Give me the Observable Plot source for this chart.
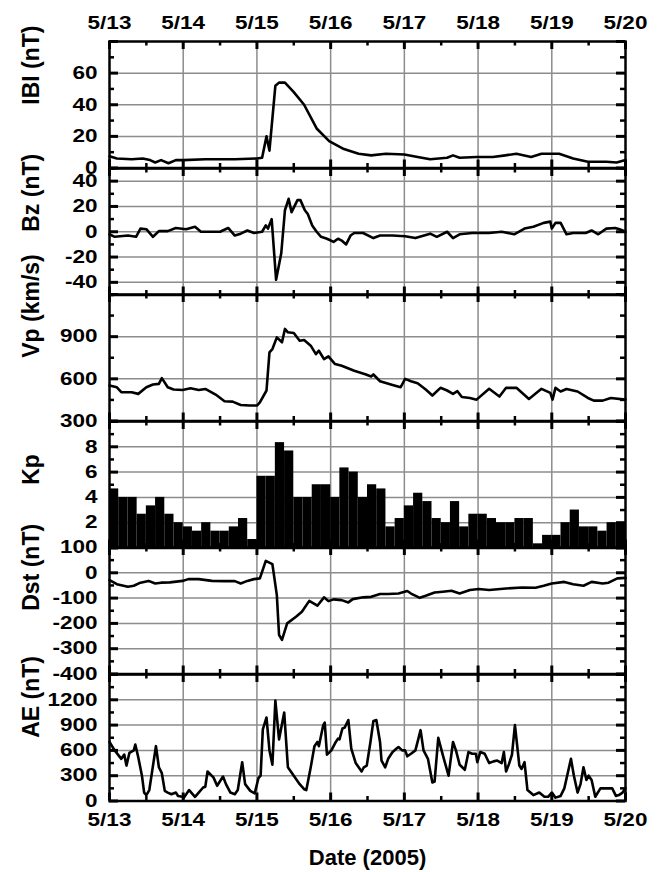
<!DOCTYPE html>
<html>
<head>
<meta charset="utf-8">
<script src="https://cdn.jsdelivr.net/npm/d3@7"></script>
<script src="https://cdn.jsdelivr.net/npm/@observablehq/plot@0.6"></script>
<style>
  html, body { margin: 0; padding: 0; background: #fff; }
  #chart { position: relative; width: 659px; height: 872px; overflow: hidden; }
  #chart svg { position: absolute; left: 0; overflow: visible; }
</style>
</head>
<body>
<div id="chart"></div>
<script>
// ---------- data (days since 2005-05-13 00:00 UT) ----------
const dateLabels = ["5/13", "5/14", "5/15", "5/16", "5/17", "5/18", "5/19", "5/20"];

const ibiDay = [0, 0.1, 0.3, 0.45, 0.55, 0.62, 0.7, 0.8, 0.9, 1.0, 1.3, 1.5, 1.7, 2.0, 2.07, 2.13, 2.17, 2.25, 2.3, 2.38, 2.5, 2.64, 2.81, 2.98, 3.18, 3.38, 3.55, 3.75, 4.0, 4.18, 4.35, 4.58, 4.66, 4.75, 4.98, 5.2, 5.37, 5.52, 5.72, 5.86, 6.1, 6.29, 6.49, 6.74, 6.88, 7.0];
const ibiVal = [7.4, 6, 5.5, 6, 5, 3.5, 5, 3, 5, 5, 5.5, 5.5, 5.5, 6, 6.5, 20, 11, 52, 54, 54, 48, 40, 25, 17, 12, 9, 8, 9, 8.5, 7, 5.5, 6.5, 8, 6.5, 7, 7, 8, 9, 7, 9, 9, 6, 4, 4, 3.5, 5];

const bzDay = [0, 0.07, 0.25, 0.36, 0.42, 0.5, 0.59, 0.67, 0.79, 0.9, 1.04, 1.16, 1.24, 1.5, 1.61, 1.7, 1.78, 1.87, 1.96, 2.07, 2.12, 2.15, 2.2, 2.26, 2.33, 2.38, 2.43, 2.47, 2.55, 2.59, 2.65, 2.69, 2.75, 2.81, 2.87, 2.95, 3.04, 3.1, 3.15, 3.21, 3.27, 3.32, 3.44, 3.58, 3.67, 3.84, 4.01, 4.15, 4.35, 4.44, 4.58, 4.66, 4.75, 4.92, 5.15, 5.32, 5.49, 5.63, 5.75, 5.89, 5.98, 6.0, 6.05, 6.12, 6.2, 6.29, 6.46, 6.54, 6.63, 6.74, 6.86, 6.92, 7.0];
const bzVal = [-2, -4, -3, -4, 2.5, 2, -4, 0.5, 0.5, 3, 2, 4, 0, 0, 3, -3, -1.5, 1, -1, 0, 5, 2.5, 10, -38, -17, 17, 26, 15.5, 25, 25, 17, 14, 5, 0, -4, -5.5, -8, -5.5, -7, -10, -3, -1, -1, -5, -3, -3, -3.5, -5, -1.5, -4, 0, -5, -2, -1, -1, 0, -2, 2.5, 4, 7, 8, 2.5, 7, 7, -2, -1, -1, 1, -2, 2.5, 3, 2, 0];

const vpDay = [0, 0.1, 0.16, 0.3, 0.39, 0.5, 0.59, 0.67, 0.71, 0.79, 0.87, 0.99, 1.1, 1.21, 1.3, 1.44, 1.56, 1.67, 1.78, 1.9, 2.0, 2.04, 2.13, 2.17, 2.21, 2.27, 2.34, 2.38, 2.42, 2.5, 2.58, 2.64, 2.73, 2.8, 2.84, 2.91, 2.97, 3.06, 3.15, 3.32, 3.47, 3.55, 3.58, 3.67, 3.84, 3.95, 4.01, 4.09, 4.18, 4.29, 4.38, 4.49, 4.58, 4.66, 4.72, 4.78, 4.89, 4.98, 5.15, 5.29, 5.38, 5.52, 5.69, 5.86, 5.98, 6.01, 6.05, 6.12, 6.2, 6.35, 6.49, 6.57, 6.69, 6.8, 7.0];
const vpVal = [553, 540, 505, 505, 493, 540, 560, 564, 605, 540, 524, 521, 533, 521, 528, 488, 440, 438, 414, 410, 410, 433, 517, 788, 812, 895, 860, 955, 931, 926, 871, 876, 836, 776, 800, 740, 760, 705, 693, 657, 633, 617, 631, 583, 557, 540, 600, 583, 569, 524, 481, 536, 517, 493, 512, 471, 464, 452, 529, 474, 536, 536, 457, 529, 500, 452, 536, 510, 528, 510, 464, 445, 445, 464, 452];

// Kp: 3-hour values, 8 per day
const kpVal = [4.67, 4, 4, 2.67, 3.33, 4, 2.67, 2,
               1.67, 1.33, 2, 1.33, 1.33, 1.67, 2.33, 0.67,
               5.67, 5.67, 8.33, 7.67, 4, 4, 5, 5,
               4, 6.33, 6, 4, 5, 4.67, 1.67, 2.33,
               3.33, 4.33, 3.67, 2.33, 2, 3.67, 1.67, 2.67,
               2.67, 2.33, 2, 2, 2.33, 2.33, 0.33, 1,
               1, 2, 3, 1.67, 1.67, 1.33, 2, 2];

const dstDay = [0, 0.1, 0.25, 0.33, 0.42, 0.53, 0.62, 0.7, 0.82, 0.99, 1.07, 1.21, 1.39, 1.56, 1.7, 1.78, 1.87, 1.96, 2.04, 2.12, 2.21, 2.27, 2.3, 2.34, 2.41, 2.53, 2.61, 2.71, 2.82, 2.91, 2.97, 3.04, 3.15, 3.24, 3.3, 3.44, 3.55, 3.67, 3.78, 3.92, 4.04, 4.09, 4.21, 4.29, 4.41, 4.52, 4.64, 4.75, 4.89, 5.01, 5.15, 5.38, 5.6, 5.78, 5.89, 6.0, 6.17, 6.29, 6.43, 6.54, 6.69, 6.77, 6.89, 7.0];
const dstVal = [-29, -45, -55, -51, -39, -32, -42, -39, -38, -32, -25, -25, -32, -33, -33, -42, -32, -25, -22, 47, 34, -88, -245, -265, -200, -174, -154, -111, -130, -97, -112, -105, -108, -117, -104, -97, -95, -84, -84, -82, -72, -82, -99, -91, -78, -75, -71, -82, -68, -64, -68, -62, -58, -59, -51, -42, -36, -45, -51, -36, -42, -39, -22, -20];

const aeDay = [0, 0.07, 0.16, 0.2, 0.23, 0.27, 0.33, 0.35, 0.39, 0.44, 0.47, 0.5, 0.54, 0.63, 0.67, 0.71, 0.75, 0.79, 0.84, 0.9, 0.93, 0.99, 1.01, 1.08, 1.16, 1.21, 1.27, 1.3, 1.33, 1.41, 1.46, 1.54, 1.58, 1.64, 1.7, 1.74, 1.8, 1.84, 1.91, 1.97, 2.02, 2.05, 2.08, 2.13, 2.17, 2.21, 2.25, 2.3, 2.37, 2.42, 2.5, 2.58, 2.64, 2.67, 2.73, 2.78, 2.82, 2.84, 2.9, 2.92, 2.95, 3.01, 3.07, 3.1, 3.12, 3.16, 3.19, 3.24, 3.28, 3.34, 3.38, 3.42, 3.45, 3.49, 3.54, 3.58, 3.62, 3.67, 3.69, 3.74, 3.78, 3.84, 3.89, 3.92, 3.97, 4.01, 4.04, 4.09, 4.15, 4.22, 4.26, 4.32, 4.38, 4.41, 4.46, 4.52, 4.6, 4.66, 4.7, 4.75, 4.81, 4.82, 4.87, 4.92, 4.97, 4.99, 5.03, 5.09, 5.15, 5.21, 5.26, 5.32, 5.35, 5.38, 5.42, 5.46, 5.5, 5.56, 5.59, 5.63, 5.67, 5.75, 5.83, 5.9, 5.95, 6.0, 6.05, 6.12, 6.17, 6.26, 6.3, 6.35, 6.39, 6.43, 6.47, 6.5, 6.54, 6.59, 6.66, 6.74, 6.82, 6.87, 6.91, 6.96, 7.0];
const aeVal = [700, 600, 500, 550, 420, 570, 600, 670, 520, 300, 100, 70, 130, 650, 400, 330, 120, 100, 80, 100, 60, 50, 40, 130, 50, 100, 160, 170, 350, 280, 180, 290, 200, 100, 80, 130, 460, 200, 120, 90, 270, 300, 850, 990, 600, 430, 1190, 730, 1050, 400, 300, 200, 140, 130, 400, 650, 700, 650, 900, 930, 550, 600, 700, 740, 730, 860, 870, 960, 620, 450, 400, 350, 400, 420, 700, 950, 960, 700, 480, 400, 500, 580, 620, 640, 600, 600, 530, 560, 600, 840, 600, 500, 220, 230, 750, 550, 300, 700, 600, 430, 380, 370, 580, 560, 560, 460, 580, 560, 450, 470, 480, 450, 580, 350, 440, 550, 900, 420, 380, 460, 130, 70, 100, 50, 50, 100, 40, 60, 150, 500, 300, 100, 200, 400, 250, 300, 250, 50, 150, 150, 150, 60, 70, 100, 150];

// y-axis tick values per panel
const ibiMajor = [0, 20, 40, 60, 80], ibiMinor = [10, 30, 50, 70], ibiLabels = [0, 20, 40, 60];
const bzMajor = [-40, -20, 0, 20, 40], bzMinor = [-50, -30, -10, 10, 30, 50], bzLabels = [-40, -20, 0, 20, 40];
const vpMajor = [300, 600, 900, 1200], vpMinor = [450, 750, 1050], vpLabels = [300, 600, 900];
const kpMajor = [0, 2, 4, 6, 8, 10], kpMinor = [1, 3, 5, 7, 9], kpLabels = [2, 4, 6, 8];
const dstMajor = [-400, -300, -200, -100, 0, 100], dstMinor = [-350, -250, -150, -50, 50], dstLabels = [100, 0, -100, -200, -300, -400];
const aeMajor = [0, 300, 600, 900, 1200, 1500], aeMinor = [150, 450, 750, 1050, 1350], aeLabels = [0, 300, 600, 900, 1200];

// ---------- helpers ----------
const DAY = 864e5;
const t0 = Date.UTC(2005, 4, 13);
const toDate = d => new Date(t0 + d * DAY);
const dayTicks = d3.range(0, 8).map(toDate);
const halfDayTicks = d3.range(0, 7).map(i => toDate(i + 0.5));
const fmtDate = d => dateLabels[Math.round((d - t0) / DAY)];
const fmtNum = d => String(d);   // plain hyphen-minus, no thousands separator
const series = (days, vals) => days.map((d, i) => ({t: toDate(d), v: vals[i]}));
const kpData = kpVal.map((v, i) => ({t1: toDate(i / 8), t2: toDate((i + 1) / 8), v}));

const W = 659, ML = 109, MR = 34, PW = W - ML - MR;
const TOP = 41, H = 126.5;
const GRID = {stroke: "#8c8c8c", strokeOpacity: 1, strokeWidth: 1.5};
const TK = {stroke: "black", strokeWidth: 3};
const TKm = {stroke: "black", strokeWidth: 2.5};

const panels = [
  {title: "IBI (nT)", domain: [0, 80], major: ibiMajor, minor: ibiMinor, labels: ibiLabels, data: series(ibiDay, ibiVal)},
  {title: "Bz (nT)", domain: [-50, 50], major: bzMajor, minor: bzMinor, labels: bzLabels, data: series(bzDay, bzVal)},
  {title: "Vp (km/s)", domain: [300, 1200], major: vpMajor, minor: vpMinor, labels: vpLabels, data: series(vpDay, vpVal)},
  {title: "Kp", domain: [0, 10], major: kpMajor, minor: kpMinor, labels: kpLabels, bars: kpData},
  {title: "Dst (nT)", domain: [-400, 100], major: dstMajor, minor: dstMinor, labels: dstLabels, data: series(dstDay, dstVal)},
  {title: "AE (nT)", domain: [0, 1500], major: aeMajor, minor: aeMinor, labels: aeLabels, data: series(aeDay, aeVal)}
];

const chart = document.getElementById("chart");

panels.forEach((p, i) => {
  const first = i === 0, last = i === panels.length - 1;
  const interiorY = p.major.filter(v => v > p.domain[0] && v < p.domain[1]);
  const marks = [
    Plot.gridX(dayTicks.slice(1, -1), GRID),
    Plot.gridY(interiorY, GRID)
  ];
  if (p.bars) {
    marks.push(Plot.rect(p.bars, {x1: "t1", x2: "t2", y1: 0, y2: "v", fill: "black"}));
  }
  if (p.data) {
    marks.push(Plot.line(p.data, {x: "t", y: "v", stroke: "black", strokeWidth: 2.6, strokeLinejoin: "round"}));
  }
  marks.push(
    // x ticks (inward), bottom and top
    Plot.tickX(dayTicks, {...TK, insetTop: H - 8}),
    Plot.tickX(dayTicks, {...TK, insetBottom: H - 8}),
    Plot.tickX(halfDayTicks, {...TKm, insetTop: H - 4.5}),
    Plot.tickX(halfDayTicks, {...TKm, insetBottom: H - 4.5}),
    // y ticks (inward), left and right
    Plot.tickY(p.major, {...TK, insetRight: PW - 9}),
    Plot.tickY(p.major, {...TK, insetLeft: PW - 9}),
    Plot.tickY(p.minor, {...TKm, insetRight: PW - 5}),
    Plot.tickY(p.minor, {...TKm, insetLeft: PW - 5}),
    Plot.frame({stroke: "black", strokeWidth: 2.5}),
    Plot.axisY(p.labels, {anchor: "left", tickSize: 0, tickPadding: 12, tickFormat: fmtNum, label: null, fontSize: 18, fontWeight: "bold"}),
    Plot.text([p.title], {frameAnchor: "left", dx: -78, rotate: -90, fontSize: 23, fontWeight: "bold", lineAnchor: "middle"})
  );
  if (first) marks.push(Plot.axisX(dayTicks, {anchor: "top", tickSize: 0, tickPadding: 13, tickFormat: fmtDate, label: null, fontSize: 18, fontWeight: "bold"}));
  if (last) {
    marks.push(Plot.axisX(dayTicks, {anchor: "bottom", tickSize: 0, tickPadding: 12, tickFormat: fmtDate, label: null, fontSize: 18, fontWeight: "bold"}));
    marks.push(Plot.text(["Date (2005)"], {frameAnchor: "bottom", dy: 57, fontSize: 22, fontWeight: "bold", lineAnchor: "middle"}));
  }
  const svg = Plot.plot({
    width: W,
    height: H,
    marginLeft: ML,
    marginRight: MR,
    marginTop: 0,
    marginBottom: 0,
    x: {type: "utc", domain: [toDate(0), toDate(7)], ...(first || last ? {} : {axis: null})},
    y: {domain: p.domain},
    style: {fontFamily: "'Liberation Sans', Arial, sans-serif", fontSize: "18px", fontWeight: "bold", overflow: "visible", background: "transparent", color: "black"},
    marks
  });
  svg.style.top = (TOP + i * H) + "px";
  // widen tick-label glyphs like the original figure
  svg.querySelectorAll('g[aria-label$="tick label"] text').forEach(t => {
    const tr = t.getAttribute("transform");
    if (tr) t.setAttribute("transform", tr + " scale(1.25,1)");
  });
  chart.appendChild(svg);
});
</script>
</body>
</html>
